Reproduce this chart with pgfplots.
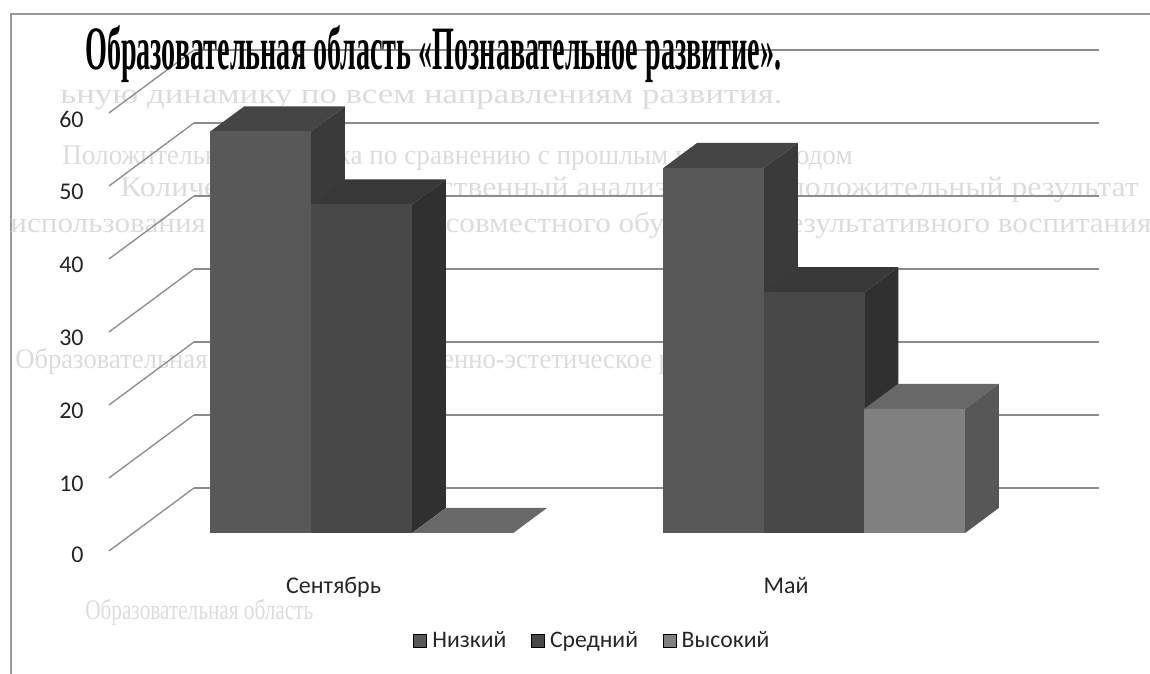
\documentclass[border=0pt]{standalone}
\usepackage{fontspec}
\usepackage{pgfplots}
\pgfplotsset{compat=1.18}
\setmainfont{Carlito}
\newfontfamily\serifbold{Liberation Serif}
\definecolor{lowF}{HTML}{585858}
\definecolor{lowS}{HTML}{3A3A3A}
\definecolor{lowT}{HTML}{454545}
\definecolor{midF}{HTML}{484848}
\definecolor{midS}{HTML}{303030}
\definecolor{midT}{HTML}{383838}
\definecolor{hiF}{HTML}{808080}
\definecolor{hiS}{HTML}{575757}
\definecolor{hiT}{HTML}{686868}
\definecolor{ghost}{HTML}{DCDCDC}
\definecolor{gridc}{HTML}{8C8C8C}
% one bar: left x, value, front, side, top
\newcommand\onebar[5]{%
  \pgfmathsetmacro\xr{#1+100.8}%
  \addplot3[fill=#5,draw=none,forget plot] coordinates {(#1,0.286,#2) (\xr,0.286,#2) (\xr,0.683,#2) (#1,0.683,#2)} --cycle;
  \addplot3[fill=#4,draw=none,forget plot] coordinates {(\xr,0.286,0) (\xr,0.683,0) (\xr,0.683,#2) (\xr,0.286,#2)} --cycle;
  \addplot3[fill=#3,draw=none,forget plot] coordinates {(#1,0.286,0) (\xr,0.286,0) (\xr,0.286,#2) (#1,0.286,#2)} --cycle;
}
\begin{document}
\begin{tikzpicture}
\begin{scope}[x=0.6pt,y=-0.6pt,yshift=404.4pt]
\path[use as bounding box] (0,0) rectangle (1150,674);
\draw[color=gray!80,line width=0.8pt] (11,674) -- (11,14) -- (1150,14);
\begin{scope}[every node/.style={anchor=base west,inner sep=0,text=ghost,font=\serifbold\fontsize{17pt}{18pt}\selectfont}]
\node[xscale=1.23] at (60,104) {ьную динамику по всем направлениям развития.};
\node[xscale=0.96] at (62,165) {Положительная динамика по сравнению с прошлым учебным годом};
\node[xscale=1.12] at (120,197) {Количественный и качественный анализ показал положительный результат};
\node[xscale=1.10] at (10,233) {использования при организации совместного обучения и результативного воспитания};
\node[xscale=0.94] at (15,369) {Образовательная область «Художественно-эстетическое развитие»};
\node[xscale=0.75] at (85,620) {Образовательная область};
\end{scope}
\end{scope}
\begin{axis}[
  at={(65.4pt,73.8pt)}, anchor=origin,
  x={(0.6pt,0pt)}, y={(51pt,37.8pt)}, z={(0pt,4.38pt)},
  xmin=0, xmax=905, ymin=0, ymax=1, zmin=0, zmax=60,
  clip=false,
  axis lines=left,
  axis line style={draw=none},
  tick style={draw=none},
  xtick={225.5,677}, xticklabels={Сентябрь,Май},
  ytick=\empty,
  ztick={0,10,...,60},
  zmajorgrids,
  major grid style={color=gridc,line width=0.8pt},
  tick label style={font=\fontsize{14.4pt}{16pt}\selectfont,text=black!85},
  /pgf/number format/assume math mode=true,
  every z tick label/.append style={xshift=-10pt,yshift=1.2pt},
  every x tick label/.append style={xshift=6pt,yshift=-11pt},
  title={\serifbold\bfseries Образовательная область «Познавательное развитие».},
  title style={at={(axis cs:-24,0,64.55)},anchor=base west,inner sep=0,font=\fontsize{37pt}{39pt}\selectfont,xscale=0.456,text=black},
  legend style={at={(axis cs:304,0,-12.3)},anchor=west,draw=none,fill=none,inner sep=0pt,
    font=\fontsize{14.2pt}{16pt}\selectfont,text=black!85,
    /tikz/every even column/.append style={column sep=12.8pt},
    /tikz/every odd column/.append style={column sep=1.2pt}},
  legend columns=3,
  legend cell align=left,
  legend image code/.code={\fill[#1] (0,-3.9pt) rectangle (7.8pt,3.9pt);},
]
\onebar{77}{55}{lowF}{lowS}{lowT}
\onebar{178}{45}{midF}{midS}{midT}
\onebar{279}{0}{hiF}{hiS}{hiT}
\onebar{530}{50}{lowF}{lowS}{lowT}
\onebar{630.5}{33}{midF}{midS}{midT}
\onebar{731}{17}{hiF}{hiS}{hiT}
\addlegendimage{fill=lowF}\addlegendentry{Низкий}
\addlegendimage{fill=midF}\addlegendentry{Средний}
\addlegendimage{fill=hiF}\addlegendentry{Высокий}
\end{axis}
\end{tikzpicture}
\end{document}
